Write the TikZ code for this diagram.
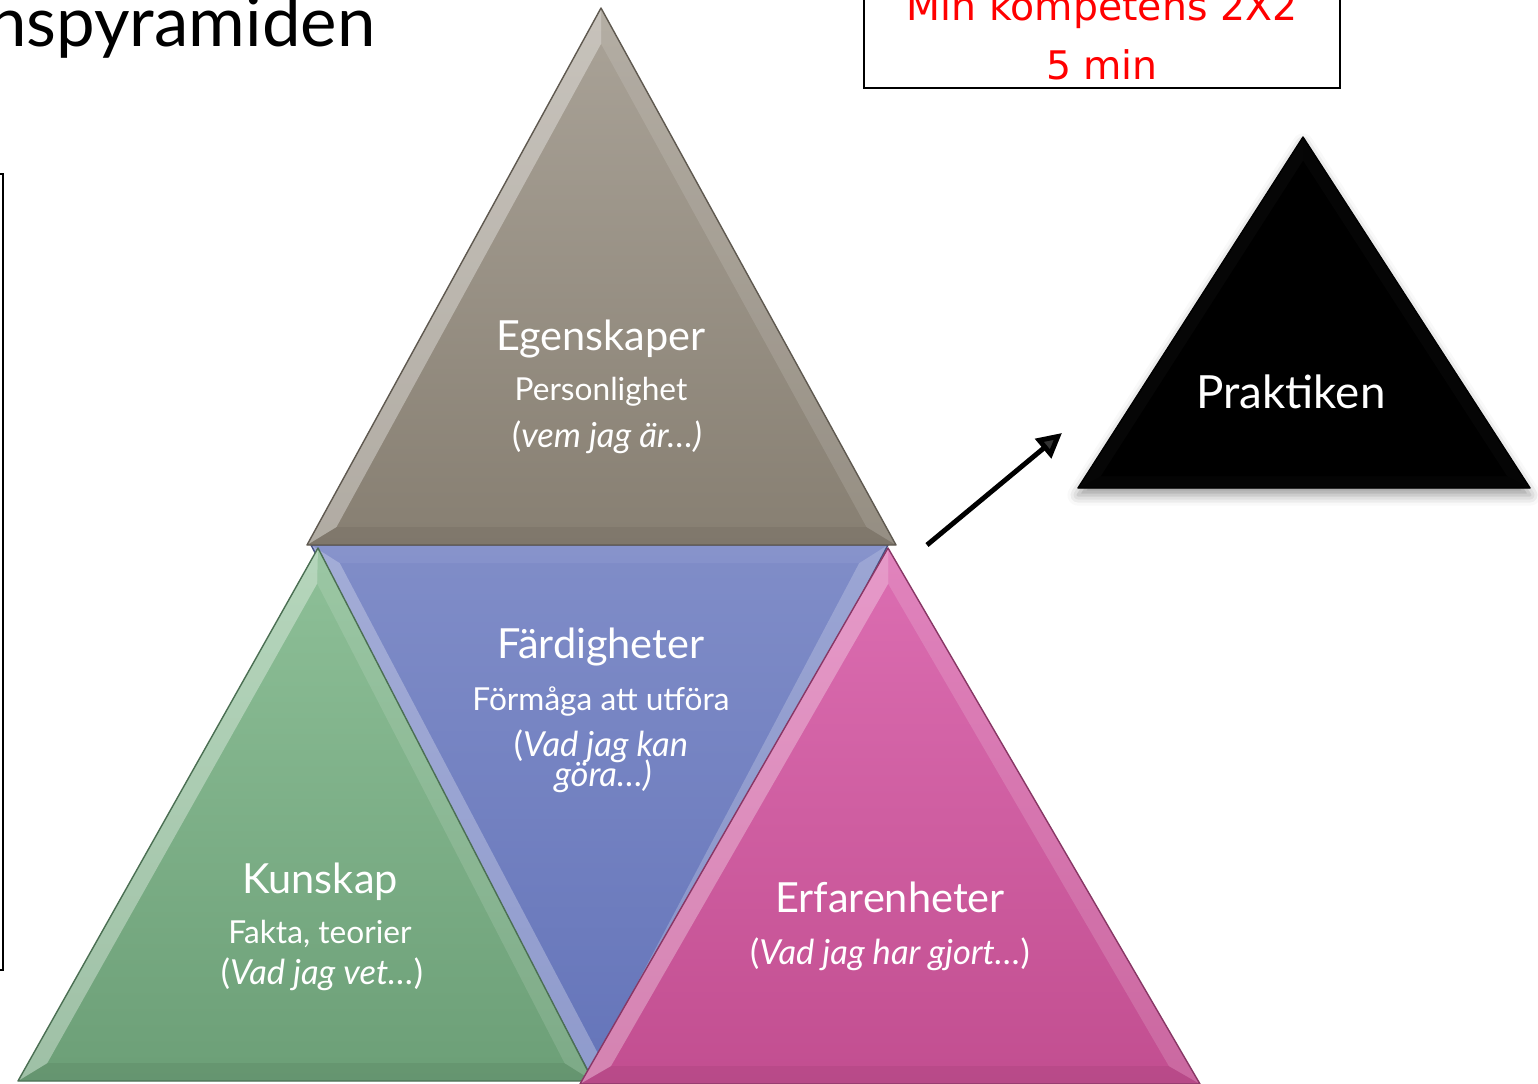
\documentclass[tikz,border=0pt]{standalone}
\usepackage{fontspec}
\setmainfont{Lato}
\newfontfamily\redfont{DejaVu Sans}
\usetikzlibrary{calc,shadows.blur,arrows.meta}
\definecolor{egTop}{HTML}{AAA398}
\definecolor{egBot}{HTML}{877F72}
\definecolor{fdTop}{HTML}{808DC8}
\definecolor{fdBot}{HTML}{6474B9}
\definecolor{kuTop}{HTML}{8EC098}
\definecolor{kuBot}{HTML}{6C9F77}
\definecolor{erTop}{HTML}{DC6EB2}
\definecolor{erBot}{HTML}{C24E90}
\definecolor{redtxt}{HTML}{FF0000}
\newcommand\BevTri[9]{%
  \coordinate (#1A) at (#2); \coordinate (#1B) at (#3); \coordinate (#1C) at (#4);
  \coordinate (#1I) at (barycentric cs:#1A=1,#1B=1,#1C=1);
  \coordinate (#1a) at ($(#1I)!0.9!(#1A)$);
  \coordinate (#1b) at ($(#1I)!0.9!(#1B)$);
  \coordinate (#1c) at ($(#1I)!0.9!(#1C)$);
  \shade[top color=#5,bottom color=#6] (#1A)--(#1B)--(#1C)--cycle;
  \fill[#7] (#1A)--(#1B)--(#1b)--(#1a)--cycle;
  \fill[#8] (#1B)--(#1C)--(#1c)--(#1b)--cycle;
  \fill[#9] (#1C)--(#1A)--(#1a)--(#1c)--cycle;
  \draw[#6!70!black,line width=0.4pt,line join=round] (#1A)--(#1B)--(#1C)--cycle;
}
\tikzset{
  head/.style={text=white,anchor=base,inner sep=0pt,font=\fontsize{11.8}{14}\selectfont},
  sub/.style={text=white,anchor=base,inner sep=0pt,font=\fontsize{9}{11}\selectfont},
  ital/.style={text=white,anchor=base,inner sep=0pt,font=\fontsize{9.8}{12}\selectfont},
  redline/.style={text=redtxt,anchor=base,inner sep=0pt,font=\redfont\fontsize{11.2}{13}\selectfont},
}
\begin{document}
\begin{tikzpicture}[x=0.01cm,y=-0.01cm]
\useasboundingbox (0,0) rectangle (1538,1084);
% title
\node[anchor=base east,inner sep=0pt,font=\fontsize{19.6}{22}\selectfont] (title) at (376,46) {nspyramiden};
% left frame
\draw[line width=0.75pt] (-30,174) rectangle (3,970);
% red box
\draw[line width=0.6pt] (864,-30) rectangle (1340,88);
\node[redline] (red1) at (1102,20) {Min kompetens 2X2};
\node[redline] (red2) at (1102,79) {5 min};
% pyramid
\BevTri{fd}{599,1092}{311,545}{888,545}{fdTop}{fdBot}{white,opacity=.28}{white,opacity=.06}{white,opacity=.22}
\BevTri{ku}{318,548}{18,1081}{593,1081}{kuTop}{kuBot}{white,opacity=.35}{black,opacity=.06}{white,opacity=.12}
\BevTri{eg}{601,8}{307,545}{896,545}{egTop}{egBot}{white,opacity=.35}{black,opacity=.06}{white,opacity=.12}
\BevTri{er}{888,548}{580,1084}{1200,1084}{erTop}{erBot}{white,opacity=.3}{black,opacity=.05}{white,opacity=.15}
% black triangle
\fill[black,blur shadow={shadow xshift=0pt,shadow yshift=-2pt,shadow blur radius=3pt,shadow opacity=40}] (1303,137)--(1078,488)--(1530,488)--cycle;
\BevTri{pk}{1303,137}{1078,488}{1530,488}{black}{black}{white,opacity=.025}{white,opacity=.015}{white,opacity=.02}
% texts
\node[head] (egH) at (601,350) {Egenskaper};
\node[sub] (egS) at (601,400) {Personlighet};
\node[ital] (egN) at (607,447) {(\textit{vem jag är…)}};
\node[head] (fdH) at (601,658) {Färdigheter};
\node[sub] (fdS) at (601,710) {Förmåga att utföra};
\node[ital] (fdN1) at (601,756) {(\textit{Vad jag kan}};
\node[ital] (fdN2) at (603,786) {\textit{göra…)}};
\node[head] (kuH) at (320,893) {Kunskap};
\node[sub] (kuS) at (320,943) {Fakta, teorier};
\node[ital] (kuN) at (322,984) {(\textit{Vad jag vet…})};
\node[head] (erH) at (890,912) {Erfarenheter};
\node[ital] (erN) at (890,964) {(\textit{Vad jag har gjort…})};
\node[text=white,anchor=base,inner sep=0pt,font=\fontsize{13}{15}\selectfont] (pkH) at (1291,408) {Praktiken};
% arrow
\coordinate (arrS) at (927,545);
\coordinate (arrE) at (1062,433);
\draw[line width=1.4pt,-{Triangle[length=7pt,width=7pt]}] (arrS) -- (arrE);
\end{tikzpicture}
\end{document}
